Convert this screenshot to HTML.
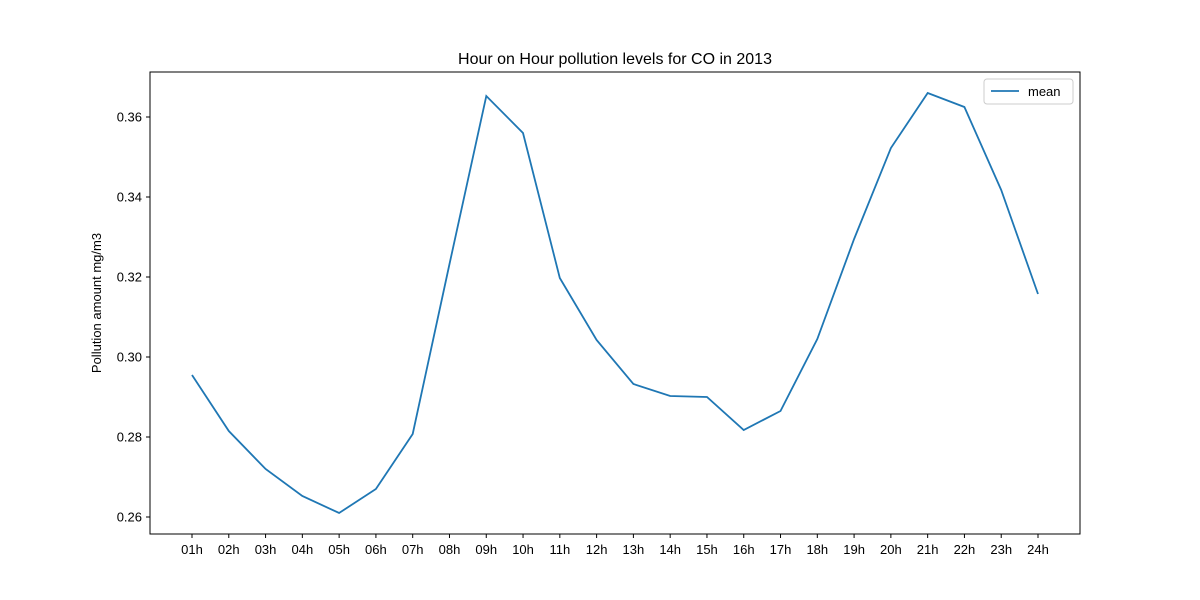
<!DOCTYPE html>
<html><head><meta charset="utf-8"><style>
html,body{margin:0;padding:0;background:#fff;}
svg{display:block;font-family:"Liberation Sans","DejaVu Sans",sans-serif;}
</style></head><body>
<svg id="chart" width="1200" height="600" xmlns="http://www.w3.org/2000/svg">
<rect width="1200" height="600" fill="#fff"/>
<text x="615" y="64" text-anchor="middle" font-size="16" fill="#000">Hour on Hour pollution levels for CO in 2013</text>
<text transform="translate(101,303) rotate(-90)" text-anchor="middle" font-size="13" fill="#000">Pollution amount mg/m3</text>
<g id="ticks"></g>
<path id="line" fill="none" stroke="#1f77b4" stroke-width="1.8"/>
<rect x="150" y="72" width="930" height="462" fill="none" stroke="#000" stroke-width="1"/>
<g>
<rect x="984" y="79" width="89" height="25" rx="3" fill="#fff" stroke="#ccc"/>
<line x1="991" y1="91" x2="1019" y2="91" stroke="#1f77b4" stroke-width="1.8"/>
<text x="1028" y="96" font-size="13">mean</text>
</g>
</svg>
<script>
const categories = ["01h","02h","03h","04h","05h","06h","07h","08h","09h","10h","11h","12h","13h","14h","15h","16h","17h","18h","19h","20h","21h","22h","23h","24h"];
const meanValues = [0.2955,0.2815,0.272,0.26525,0.261,0.267,0.28075,0.32325,0.36525,0.356,0.31975,0.30425,0.29325,0.29025,0.290,0.28175,0.2865,0.3045,0.3295,0.35225,0.366,0.3625,0.34175,0.31575];
const yTicks = [0.26,0.28,0.30,0.32,0.34,0.36];
const yTickLabels = ["0.26","0.28","0.30","0.32","0.34","0.36"];

const NS="http://www.w3.org/2000/svg";
function xs(i){return 192+i*(1038-192)/(categories.length-1);}
function ys(v){return 517-(v-0.26)*4000;}
const g=document.getElementById('ticks');
function mk(t,a){const e=document.createElementNS(NS,t);for(const k in a)e.setAttribute(k,a[k]);return e;}
yTicks.forEach((v,i)=>{
  const y=ys(v);
  const tk=mk('line',{x1:146,x2:150,y1:y,y2:y,stroke:'#000'});
  
  
  g.appendChild(tk);
  const t=mk('text',{x:142,y:y+4.5,'text-anchor':'end','font-size':13});
  
  
  t.textContent=yTickLabels[i];g.appendChild(t);
});
categories.forEach((c,i)=>{
  const x=xs(i);
  const tk=mk('line',{x1:x,x2:x,y1:534,y2:538,stroke:'#000'});
  
  
  g.appendChild(tk);
  const t=mk('text',{x:x,y:554,'text-anchor':'middle','font-size':13});
  
  
  t.textContent=c;g.appendChild(t);
});
document.getElementById('line').setAttribute('d',meanValues.map((v,i)=>(i?'L':'M')+xs(i).toFixed(1)+','+ys(v).toFixed(1)).join(''));
</script>
</body></html>
